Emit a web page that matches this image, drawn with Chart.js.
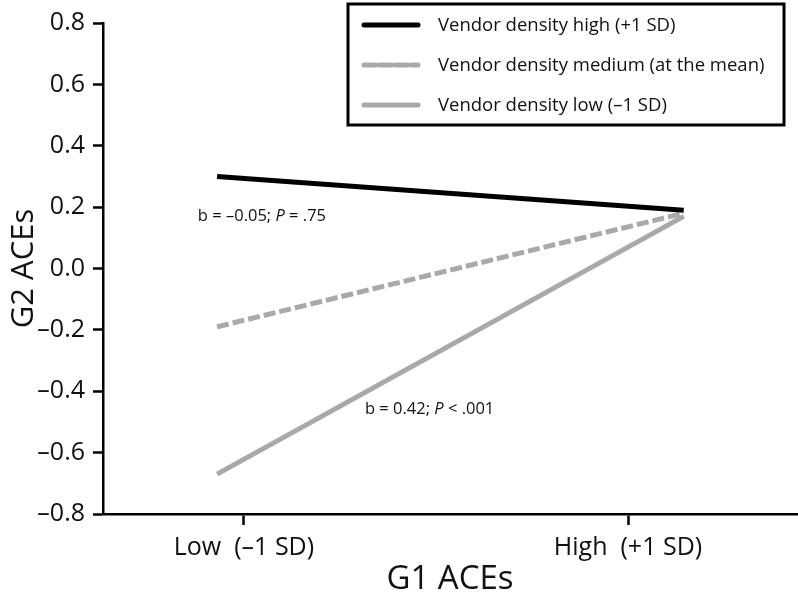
<!DOCTYPE html>
<html>
<head>
<meta charset="utf-8">
<script src="https://cdn.jsdelivr.net/npm/chart.js@4/dist/chart.umd.min.js"></script>
<style>
  html, body { margin: 0; padding: 0; background: #fff; }
  #wrap { width: 798px; height: 599px; position: relative; }
</style>
</head>
<body>
<div id="wrap"><canvas id="myChart" width="798" height="599"></canvas></div>
<script>
// Datos
const lineX = [-1.14, 1.29];            // extremos de las rectas (en unidades de SD)
const highVals = [0.30, 0.19];          // densidad alta (+1 SD)
const medVals = [-0.19, 0.18];          // densidad media
const lowVals = [-0.67, 0.17];          // densidad baja (-1 SD)
const xTickValues = [-1, 1];
const xTickLabels = ["Low  (–1 SD)", "High  (+1 SD)"];
const seriesNames = [
  "Vendor density high (+1 SD)",
  "Vendor density medium (at the mean)",
  "Vendor density low (–1 SD)"
];
const notes = [
  { x: -1.24, y: 0.17, b: "b = –0.05; ", p: "P", rest: " = .75" },
  { x: -0.37, y: -0.46, b: "b = 0.42; ", p: "P", rest: " < .001" }
];

const FONT = "'Open Sans', 'DejaVu Sans', sans-serif";
const GRAY = "#a9a9a9";

const pts = vals => vals.map((v, i) => ({ x: lineX[i], y: v }));

// Leyenda con marco
const boxLegend = {
  id: "boxLegend",
  afterDraw(c) {
    const ctx = c.ctx;
    ctx.save();
    ctx.lineWidth = 3;
    ctx.strokeStyle = "#000";
    ctx.strokeRect(348, 4, 436, 121);
    const ys = [25, 65, 105];
    c.data.datasets.forEach((ds, i) => {
      ctx.beginPath();
      ctx.lineWidth = 5;
      ctx.lineCap = "round";
      ctx.strokeStyle = ds.borderColor;
      ctx.setLineDash(ds.borderDash || []);
      ctx.moveTo(364, ys[i]);
      ctx.lineTo(418, ys[i]);
      ctx.stroke();
      ctx.setLineDash([]);
      ctx.fillStyle = "#111";
      ctx.font = "18.5px " + FONT;
      ctx.textBaseline = "middle";
      ctx.fillText(ds.label, 438, ys[i] + 1);
    });
    ctx.restore();
  }
};

// Anotaciones de pendientes
const slopeNotes = {
  id: "slopeNotes",
  afterDatasetsDraw(c) {
    const ctx = c.ctx, sx = c.scales.x, sy = c.scales.y;
    ctx.save();
    ctx.fillStyle = "#111";
    ctx.textBaseline = "middle";
    notes.forEach(n => {
      let x = sx.getPixelForValue(n.x);
      const y = sy.getPixelForValue(n.y);
      ctx.font = "16.5px " + FONT;
      ctx.fillText(n.b, x, y);
      x += ctx.measureText(n.b).width;
      ctx.font = "italic 16.5px " + FONT;
      ctx.fillText(n.p, x, y);
      x += ctx.measureText(n.p).width;
      ctx.font = "16.5px " + FONT;
      ctx.fillText(n.rest, x, y);
    });
    ctx.restore();
  }
};

new Chart(document.getElementById("myChart").getContext("2d"), {
  type: "line",
  data: {
    datasets: [
      { label: seriesNames[0], data: pts(highVals), borderColor: "#000", borderWidth: 5 },
      { label: seriesNames[1], data: pts(medVals), borderColor: GRAY, borderWidth: 5, borderDash: [12, 4] },
      { label: seriesNames[2], data: pts(lowVals), borderColor: GRAY, borderWidth: 5 }
    ]
  },
  options: {
    responsive: false,
    animation: false,
    layout: { padding: { top: 23, right: 1, left: 0, bottom: 0 } },
    elements: { point: { radius: 0 }, line: { tension: 0, borderCapStyle: "butt" } },
    plugins: { legend: { display: false }, tooltip: { enabled: false } },
    scales: {
      x: {
        type: "linear",
        min: -1.734,
        max: 1.88,
        afterBuildTicks: s => { s.ticks = xTickValues.map(v => ({ value: v })); },
        afterFit: s => { s.height = 85; },
        border: { color: "#000", width: 2.5 },
        grid: { drawOnChartArea: false, tickLength: 11, tickColor: "#000", tickWidth: 2.5 },
        ticks: {
          color: "#111",
          font: { family: FONT, size: 25 },
          padding: 8,
          maxRotation: 0,
          callback: v => xTickLabels[xTickValues.indexOf(v)]
        },
        title: { display: true, text: "G1 ACEs", color: "#111", font: { family: FONT, size: 33 }, padding: { top: 0, bottom: 0 } }
      },
      y: {
        min: -0.8,
        max: 0.8,
        afterFit: s => { s.width = 103; },
        border: { color: "#000", width: 2.5 },
        grid: { drawOnChartArea: false, tickLength: 10, tickColor: "#000", tickWidth: 2.5 },
        ticks: {
          stepSize: 0.2,
          color: "#111",
          font: { family: FONT, size: 25 },
          padding: 8,
          callback: v => Math.abs(v) < 1e-9 ? "0.0" : v.toFixed(1).replace("-", "–")
        },
        title: { display: true, text: "G2 ACEs", color: "#111", font: { family: FONT, size: 31 }, padding: { top: 6, bottom: 0 } }
      }
    }
  },
  plugins: [boxLegend, slopeNotes]
});
</script>
</body>
</html>
